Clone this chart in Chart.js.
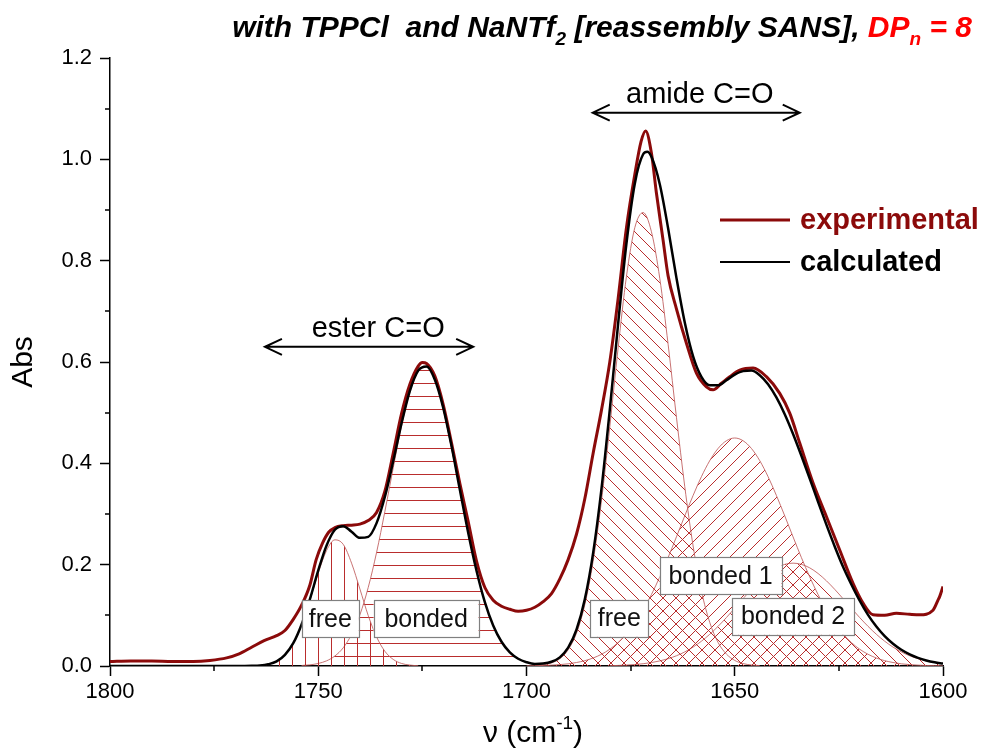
<!DOCTYPE html>
<html><head><meta charset="utf-8">
<script src="https://cdn.jsdelivr.net/npm/chart.js@4.4.1/dist/chart.umd.min.js"></script>
<style>html,body{margin:0;padding:0;background:#fff}canvas{display:block}</style>
</head><body>
<canvas id="c" width="984" height="752"></canvas>
<script>
// ---------- data (wavenumber cm-1 / absorbance) ----------
const expV = [1800,1795,1790,1785,1780,1776,1772,1769,1766,1763,1760,1758,1756,1754,1752,1750.5,1749,1747.5,1746,1744,1742,1740,1738,1736,1734,1732,1730,1728,1726,1725,1724,1722,1720,1718,1716,1714,1712,1710,1708,1706,1704,1702,1700,1698,1696,1694,1692,1690,1688,1686,1684,1682,1680,1678,1676,1674,1672.5,1671.4,1670,1668.8,1667.2,1666,1664,1661.6,1659.2,1656.8,1655.2,1653.2,1651.2,1648.8,1645.6,1642.4,1639.2,1636.8,1634.4,1631.2,1628,1624.8,1621.6,1619.2,1616.8,1614,1611.2,1608,1605.6,1602.4,1601.2,1600.8,1600];
const expA = [0.009,0.010,0.010,0.009,0.009,0.011,0.016,0.024,0.037,0.050,0.060,0.070,0.092,0.120,0.160,0.210,0.242,0.264,0.273,0.277,0.278,0.280,0.287,0.303,0.345,0.420,0.498,0.556,0.592,0.599,0.597,0.572,0.516,0.440,0.360,0.285,0.207,0.155,0.130,0.118,0.112,0.108,0.110,0.116,0.127,0.143,0.172,0.210,0.260,0.330,0.420,0.505,0.600,0.725,0.865,0.970,1.035,1.056,1.012,0.933,0.840,0.770,0.705,0.637,0.578,0.551,0.545,0.558,0.571,0.584,0.588,0.571,0.538,0.499,0.440,0.361,0.295,0.229,0.163,0.124,0.101,0.100,0.104,0.102,0.101,0.110,0.130,0.137,0.157];

const calcV = [1800,1790,1780,1772,1768,1766,1764,1762,1760,1758,1756,1754,1752,1750,1748,1746,1744,1742,1740,1738,1736,1734,1732,1730,1728,1726,1724,1722,1720,1718,1716,1714,1712,1710,1708,1706,1704,1702,1700,1698,1696,1694,1692,1690,1688,1686,1684,1682,1680,1678,1676,1674,1672,1671,1670,1668,1666,1664,1662,1660,1658,1656,1654,1652,1650,1648,1646,1644,1642,1640,1638,1636,1634,1632,1630,1628,1626,1624,1622,1620,1618,1616,1614,1612,1610,1608,1606,1604,1602,1600];
const calcA = [0,0,0,0,0.0001,0.0003,0.001,0.0034,0.009,0.022,0.045,0.082,0.132,0.1885,0.238,0.269,0.276,0.265,0.253,0.255,0.282,0.334,0.404,0.479,0.543,0.583,0.591,0.565,0.510,0.434,0.348,0.263,0.188,0.126,0.080,0.0478,0.0269,0.0143,0.0075,0.004,0.0048,0.0083,0.0171,0.0362,0.0716,0.1315,0.223,0.3495,0.506,0.6755,0.834,0.952,1.010,1.015,1.005,0.951,0.864,0.766,0.678,0.611,0.5705,0.554,0.554,0.564,0.575,0.582,0.583,0.574,0.556,0.530,0.497,0.458,0.415,0.370,0.324,0.279,0.236,0.196,0.161,0.129,0.101,0.078,0.059,0.044,0.032,0.023,0.016,0.011,0.0074,0.0048];

const esterFreeV = [1766,1764,1762,1760,1758,1756,1754,1752,1750,1748,1746,1744,1742,1740,1738,1736,1734,1732,1730,1728,1726];
const esterFreeA = [0.0003,0.0011,0.0034,0.009,0.0215,0.0445,0.081,0.130,0.1835,0.228,0.249,0.240,0.203,0.152,0.0996,0.0575,0.029,0.013,0.005,0.0018,0.0005];

const esterBondedV = [1754,1752,1750,1748,1746,1744,1742,1740,1738,1736,1734,1732,1730,1728,1726,1724,1722,1720,1718,1716,1714,1712,1710,1708,1706,1704,1702,1700,1698,1696];
const esterBondedA = [0.001,0.0023,0.005,0.0102,0.0198,0.036,0.0623,0.101,0.155,0.224,0.305,0.391,0.474,0.541,0.582,0.591,0.565,0.510,0.434,0.348,0.263,0.188,0.126,0.080,0.0478,0.0269,0.0143,0.0072,0.0034,0.0015];

const amideFreeV = [1698,1696,1694,1692,1690,1688,1686,1684,1682,1680,1678,1676,1674,1672,1670,1668,1666,1664,1662,1660,1658,1656,1654,1652,1650,1648,1646,1644];
const amideFreeA = [0.001,0.0023,0.006,0.0144,0.0319,0.0647,0.121,0.207,0.326,0.472,0.628,0.769,0.865,0.895,0.857,0.765,0.635,0.491,0.354,0.237,0.148,0.086,0.0464,0.0235,0.011,0.0048,0.002,0.0008];

const bonded1V = [1700,1698,1696,1694,1692,1690,1688,1686,1684,1682,1680,1678,1676,1674,1672,1670,1668,1666,1664,1662,1660,1658,1656,1654,1652,1650,1648,1646,1644,1642,1640,1638,1636,1634,1632,1630,1628,1626,1624,1622,1620,1618,1616,1614,1612,1610,1608,1606,1604,1602,1600];
const bonded1A = [0.0003,0.0006,0.001,0.0017,0.0027,0.0043,0.0069,0.0105,0.0158,0.0231,0.0331,0.0464,0.0634,0.0847,0.1106,0.1411,0.1759,0.2141,0.2549,0.2964,0.3366,0.3737,0.4053,0.4294,0.4446,0.450,0.4446,0.4294,0.4053,0.3737,0.3366,0.2964,0.2549,0.2141,0.1759,0.1411,0.1106,0.0847,0.0634,0.0464,0.0331,0.0231,0.0158,0.0105,0.0069,0.0043,0.0027,0.0017,0.001,0.0006,0.0003];

const bonded2V = [1680,1678,1676,1674,1672,1670,1668,1666,1664,1662,1660,1658,1656,1654,1652,1650,1648,1646,1644,1642,1640,1638,1636,1634,1632,1630,1628,1626,1624,1622,1620,1618,1616,1614,1612,1610,1608,1606,1604,1602,1600];
const bonded2A = [0.0007,0.0011,0.0018,0.0029,0.0045,0.0068,0.01,0.0144,0.0202,0.0278,0.0373,0.0489,0.0626,0.0783,0.0956,0.1141,0.1329,0.1513,0.1682,0.1826,0.1937,0.2006,0.203,0.2006,0.1937,0.1826,0.1682,0.1513,0.1329,0.1141,0.0956,0.0783,0.0626,0.0489,0.0373,0.0278,0.0202,0.0144,0.01,0.0068,0.0045];

const xMajorTicks = [1800,1750,1700,1650,1600];
const xMinorTicks = [1775,1725,1675,1625];
const yMajorTicks = [0,0.2,0.4,0.6,0.8,1.0,1.2];
const yMinorTicks = [0.1,0.3,0.5,0.7,0.9,1.1];

// ---------- annotations (data units) ----------
const bandArrows = [
  {text:'ester C=O', from:1762.8, to:1712.8, y:0.630, textV:1735.6, textY:0.649},
  {text:'amide C=O', from:1684.1, to:1634.4, y:1.092, textV:1658.4, textY:1.111}
];
const bandLabels = [
  {text:'free', v:1747.1, y:0.0928, w:57},
  {text:'bonded', v:1724.1, y:0.0928, w:105},
  {text:'free', v:1677.7, y:0.094, w:58},
  {text:'bonded 1', v:1653.4, y:0.178, w:122},
  {text:'bonded 2', v:1636.0, y:0.098, w:122}
];

// ---------- styling ----------
const FONT = "'Liberation Sans', Arial, sans-serif";
const EXP = '#8b0a0a';
const HATCH = 'rgb(185,45,45)';
const COMP = 'rgba(190,90,90,0.85)';

function pts(v, a){ return v.map((x,i)=>({x:x, y:a[i]})); }
function makePattern(kind){
  const s = 13;
  const c = document.createElement('canvas'); c.width = s; c.height = s;
  const g = c.getContext('2d');
  g.strokeStyle = HATCH; g.lineWidth = 1; g.beginPath();
  if (kind === 'v'){ g.moveTo(6.5,0); g.lineTo(6.5,s); }
  else if (kind === 'h'){ g.moveTo(0,6.5); g.lineTo(s,6.5); }
  else if (kind === '/'){ g.moveTo(0,s); g.lineTo(s,0); g.moveTo(-1,1); g.lineTo(1,-1); g.moveTo(s-1,s+1); g.lineTo(s+1,s-1); }
  else { g.moveTo(0,0); g.lineTo(s,s); g.moveTo(-1,s-1); g.lineTo(1,s+1); g.moveTo(s-1,-1); g.lineTo(s+1,1); }
  g.stroke();
  return g.createPattern(c, 'repeat');
}

function compDs(label, v, a, kind){
  return {label, data: pts(v,a), borderColor: COMP, borderWidth: 1, backgroundColor: makePattern(kind),
    fill: 'origin', pointRadius: 0, cubicInterpolationMode: 'monotone', order: 3};
}

const decor = {
  id: 'decor',
  afterDatasetsDraw(chart){
    const ctx = chart.ctx, xs = chart.scales.x, ys = chart.scales.y;
    ctx.save();
    ctx.font = '25px ' + FONT; ctx.textAlign = 'center'; ctx.textBaseline = 'middle';
    bandLabels.forEach(b=>{
      const cx = xs.getPixelForValue(b.v), cy = ys.getPixelForValue(b.y);
      const h = 37;
      ctx.fillStyle = '#fff'; ctx.fillRect(cx - b.w/2, cy - h/2, b.w, h);
      ctx.strokeStyle = '#808080'; ctx.lineWidth = 1.2;
      ctx.strokeRect(Math.round(cx - b.w/2)+0.5, Math.round(cy - h/2)+0.5, b.w, h);
      ctx.fillStyle = '#111'; ctx.fillText(b.text, cx, cy + 1);
    });
    bandArrows.forEach(a=>{
      const x1 = xs.getPixelForValue(a.from), x2 = xs.getPixelForValue(a.to), y = ys.getPixelForValue(a.y);
      ctx.strokeStyle = '#000'; ctx.lineWidth = 2; ctx.beginPath();
      ctx.moveTo(x1, y); ctx.lineTo(x2, y);
      ctx.moveTo(x1+17, y-8); ctx.lineTo(x1, y); ctx.lineTo(x1+17, y+8);
      ctx.moveTo(x2-17, y-8); ctx.lineTo(x2, y); ctx.lineTo(x2-17, y+8);
      ctx.stroke();
      ctx.font = '29px ' + FONT; ctx.textAlign = 'center'; ctx.textBaseline = 'alphabetic'; ctx.fillStyle = '#000';
      ctx.fillText(a.text, xs.getPixelForValue(a.textV), ys.getPixelForValue(a.textY));
    });
    ctx.restore();
  },
  afterDraw(chart){
    const ctx = chart.ctx, xs = chart.scales.x, ys = chart.scales.y, area = chart.chartArea;
    ctx.save();
    ctx.strokeStyle = '#000'; ctx.lineWidth = 1.5; ctx.beginPath();
    xMinorTicks.forEach(v=>{ const px = Math.round(xs.getPixelForValue(v)); ctx.moveTo(px, area.bottom); ctx.lineTo(px, area.bottom + 5); });
    yMinorTicks.forEach(v=>{ const py = Math.round(ys.getPixelForValue(v)); ctx.moveTo(area.left, py); ctx.lineTo(area.left - 5, py); });
    ctx.stroke();
    const tf = 'italic bold 30px ' + FONT, sf = 'italic bold 19px ' + FONT;
    const parts = [
      {t:'with TPPCl  and NaNTf', f:tf, c:'#000', dy:0},
      {t:'2', f:sf, c:'#000', dy:8},
      {t:' [reassembly SANS], ', f:tf, c:'#000', dy:0},
      {t:'DP', f:tf, c:'#ff0000', dy:0},
      {t:'n', f:sf, c:'#ff0000', dy:8},
      {t:' = 8', f:tf, c:'#ff0000', dy:0}
    ];
    let total = 0;
    parts.forEach(p=>{ ctx.font = p.f; p.w = ctx.measureText(p.t).width; total += p.w; });
    let x = 972 - total;
    ctx.textAlign = 'left'; ctx.textBaseline = 'alphabetic';
    parts.forEach(p=>{ ctx.font = p.f; ctx.fillStyle = p.c; ctx.fillText(p.t, x, 37 + p.dy); x += p.w; });
    const leg = [{t:'experimental', c:EXP, w:3, y:220}, {t:'calculated', c:'#000', w:2, y:262}];
    leg.forEach(l=>{
      ctx.strokeStyle = l.c; ctx.lineWidth = l.w; ctx.beginPath(); ctx.moveTo(720, l.y); ctx.lineTo(790, l.y); ctx.stroke();
      ctx.font = 'bold 29px ' + FONT; ctx.fillStyle = l.c; ctx.textBaseline = 'middle'; ctx.fillText(l.t, 800, l.y + 1);
    });
    ctx.textBaseline = 'alphabetic';
    const xp = [{t:'\u03bd (cm', f:'30px ' + FONT, dy:0}, {t:'-1', f:'19px ' + FONT, dy:-13}, {t:')', f:'30px ' + FONT, dy:0}];
    let tw = 0; xp.forEach(p=>{ ctx.font = p.f; p.w = ctx.measureText(p.t).width; tw += p.w; });
    let xx = 533 - tw/2; ctx.fillStyle = '#000';
    xp.forEach(p=>{ ctx.font = p.f; ctx.fillText(p.t, xx, 742 + p.dy); xx += p.w; });
    ctx.restore();
  }
};

new Chart(document.getElementById('c'), {
  type: 'line',
  data: {
    datasets: [
      {label:'calculated', data: pts(calcV, calcA), borderColor:'#000', borderWidth:2.5, pointRadius:0, fill:false, cubicInterpolationMode:'monotone', order:0},
      {label:'experimental', data: pts(expV, expA), borderColor:EXP, borderWidth:3, pointRadius:0, fill:false, cubicInterpolationMode:'monotone', order:1},
      compDs('ester free', esterFreeV, esterFreeA, 'v'),
      compDs('ester bonded', esterBondedV, esterBondedA, 'h'),
      compDs('amide free', amideFreeV, amideFreeA, '\\'),
      compDs('amide bonded 1', bonded1V, bonded1A, '/'),
      compDs('amide bonded 2', bonded2V, bonded2A, '\\')
    ]
  },
  options: {
    responsive: false, animation: false, devicePixelRatio: 1,
    layout: {padding: {left: 0, right: 41, top: 58, bottom: 0}},
    plugins: {legend: {display: false}, tooltip: {enabled: false}, title: {display: false}},
    scales: {
      x: {
        type: 'linear', reverse: true, min: 1600, max: 1800,
        afterBuildTicks: s => { s.ticks = xMajorTicks.map(v => ({value: v})); },
        ticks: {color: '#000', font: {family: FONT, size: 22}, padding: 3, maxRotation: 0, autoSkip: false,
                callback: v => String(v)},
        grid: {display: true, drawOnChartArea: false, drawTicks: true, tickLength: 10, tickWidth: 1.5, tickColor: '#000'},
        border: {display: true, color: '#000', width: 1.5},
        afterFit: s => { s.height = 86; }
      },
      y: {
        min: 0, max: 1.2,
        afterBuildTicks: s => { s.ticks = yMajorTicks.map(v => ({value: v})); },
        ticks: {color: '#000', font: {family: FONT, size: 22}, padding: 8, autoSkip: false,
                callback: v => Number(v).toFixed(1)},
        grid: {display: true, drawOnChartArea: false, drawTicks: true, tickLength: 10, tickWidth: 1.5, tickColor: '#000'},
        border: {display: true, color: '#000', width: 1.5},
        title: {display: true, text: 'Abs', color: '#000', font: {family: FONT, size: 30}, padding: {top: 6, bottom: 0}},
        afterFit: s => { s.width = 110; }
      }
    }
  },
  plugins: [decor]
});
</script>
</body></html>
